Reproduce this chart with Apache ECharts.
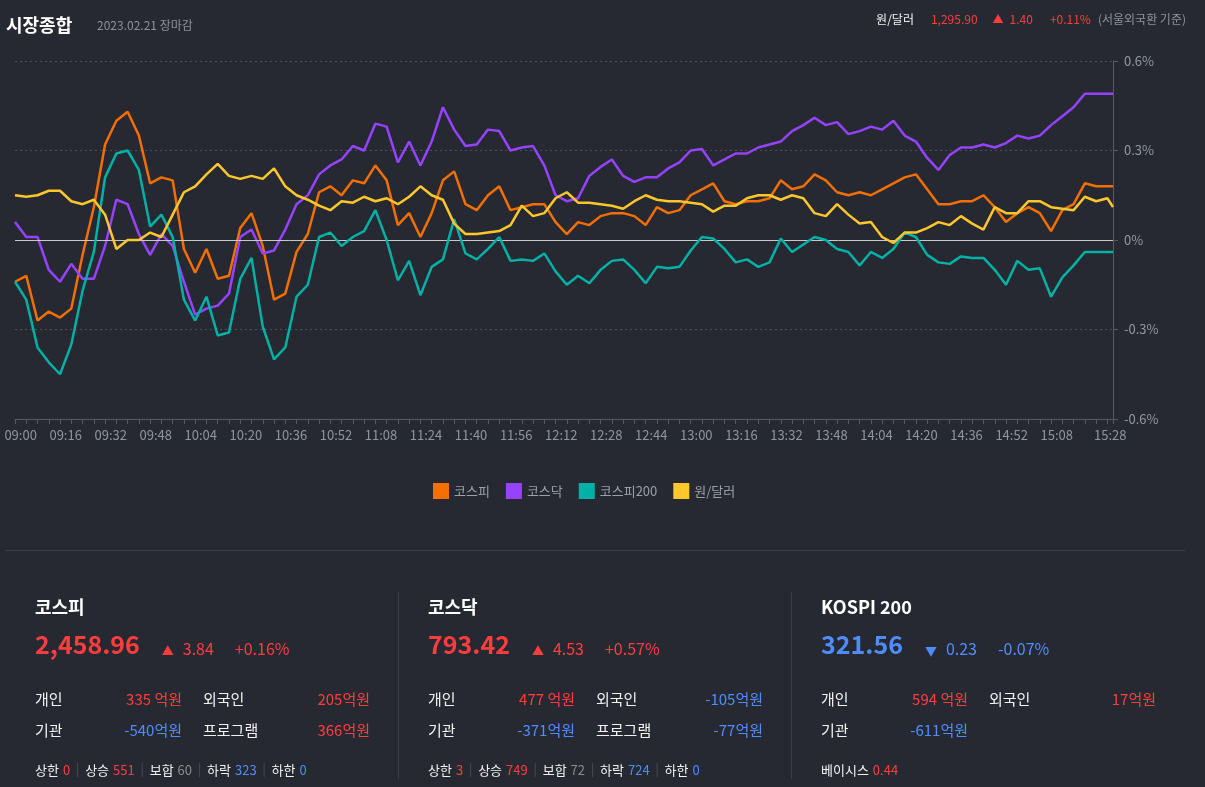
<!DOCTYPE html>
<html>
<head>
<meta charset="utf-8">
<title>시장종합</title>
<script src="https://cdn.jsdelivr.net/npm/echarts@6/dist/echarts.min.js"></script>
<style>
    html, body { margin: 0; padding: 0; background: #262932; }
    #chart { width: 1205px; height: 787px; }
</style>
</head>
<body>
<div id="chart"></div>
<script>
// 시간축 (4분 간격) + 장마감 15:30
const times = ['09:00','09:04','09:08','09:12','09:16','09:20','09:24','09:28','09:32','09:36',
    '09:40','09:44','09:48','09:52','09:56','10:00','10:04','10:08','10:12','10:16',
    '10:20','10:24','10:28','10:32','10:36','10:40','10:44','10:48','10:52','10:56',
    '11:00','11:04','11:08','11:12','11:16','11:20','11:24','11:28','11:32','11:36',
    '11:40','11:44','11:48','11:52','11:56','12:00','12:04','12:08','12:12','12:16',
    '12:20','12:24','12:28','12:32','12:36','12:40','12:44','12:48','12:52','12:56',
    '13:00','13:04','13:08','13:12','13:16','13:20','13:24','13:28','13:32','13:36',
    '13:40','13:44','13:48','13:52','13:56','14:00','14:04','14:08','14:12','14:16',
    '14:20','14:24','14:28','14:32','14:36','14:40','14:44','14:48','14:52','14:56',
    '15:00','15:04','15:08','15:12','15:16','15:20','15:24','15:28','15:30'];

// 등락률 (%)
const kospi = [-0.14,-0.12,-0.27,-0.24,-0.26,-0.23,-0.05,0.11,0.32,0.40,
    0.43,0.35,0.19,0.21,0.20,-0.03,-0.11,-0.03,-0.13,-0.12,
    0.04,0.09,-0.02,-0.20,-0.18,-0.04,0.02,0.16,0.18,0.15,
    0.20,0.19,0.25,0.20,0.05,0.09,0.01,0.09,0.20,0.23,
    0.12,0.10,0.15,0.18,0.10,0.11,0.12,0.12,0.06,0.02,
    0.06,0.05,0.08,0.09,0.09,0.08,0.05,0.11,0.09,0.10,
    0.15,0.17,0.19,0.13,0.12,0.13,0.13,0.14,0.20,0.17,
    0.18,0.22,0.20,0.16,0.15,0.16,0.15,0.17,0.19,0.21,
    0.22,0.17,0.12,0.12,0.13,0.13,0.15,0.11,0.06,0.09,
    0.11,0.09,0.03,0.10,0.12,0.19,0.18,0.18,0.18];
const kosdaq = [0.06,0.01,0.01,-0.10,-0.14,-0.08,-0.13,-0.13,-0.02,0.135,
    0.12,0.02,-0.05,0.02,-0.02,-0.14,-0.25,-0.23,-0.22,-0.18,
    0.01,0.035,-0.045,-0.035,0.035,0.12,0.15,0.22,0.25,0.27,
    0.315,0.30,0.39,0.38,0.26,0.33,0.25,0.33,0.445,0.37,
    0.315,0.32,0.37,0.365,0.30,0.31,0.315,0.25,0.15,0.13,
    0.14,0.215,0.245,0.27,0.215,0.195,0.21,0.21,0.24,0.26,
    0.30,0.305,0.25,0.27,0.29,0.29,0.31,0.32,0.33,0.365,
    0.385,0.41,0.385,0.395,0.355,0.365,0.38,0.37,0.40,0.35,
    0.33,0.275,0.235,0.285,0.31,0.31,0.32,0.31,0.325,0.35,
    0.34,0.35,0.385,0.415,0.445,0.49,0.49,0.49,0.49];
const kospi200 = [-0.14,-0.20,-0.36,-0.41,-0.45,-0.35,-0.17,-0.04,0.21,0.29,
    0.30,0.235,0.045,0.085,0.01,-0.20,-0.27,-0.19,-0.32,-0.31,
    -0.13,-0.06,-0.29,-0.40,-0.36,-0.19,-0.15,0.01,0.025,-0.02,
    0.01,0.03,0.10,0.00,-0.135,-0.07,-0.185,-0.09,-0.065,0.07,
    -0.045,-0.065,-0.03,0.01,-0.07,-0.065,-0.07,-0.045,-0.105,-0.15,
    -0.12,-0.145,-0.10,-0.07,-0.065,-0.10,-0.145,-0.09,-0.095,-0.09,
    -0.035,0.01,0.005,-0.03,-0.075,-0.065,-0.09,-0.075,0.005,-0.04,
    -0.015,0.01,0.00,-0.03,-0.04,-0.085,-0.04,-0.06,-0.03,0.025,
    0.01,-0.05,-0.075,-0.08,-0.055,-0.06,-0.06,-0.10,-0.15,-0.07,
    -0.10,-0.095,-0.19,-0.125,-0.085,-0.04,-0.04,-0.04,-0.04];
const usdkrw = [0.15,0.145,0.15,0.165,0.165,0.13,0.12,0.135,0.085,-0.03,
    0.00,0.00,0.025,0.01,0.085,0.16,0.18,0.22,0.255,0.215,
    0.205,0.215,0.205,0.24,0.18,0.15,0.135,0.115,0.10,0.13,
    0.125,0.145,0.13,0.14,0.12,0.145,0.18,0.15,0.135,0.055,
    0.02,0.02,0.025,0.03,0.05,0.115,0.08,0.09,0.14,0.16,
    0.125,0.125,0.12,0.115,0.105,0.13,0.15,0.135,0.13,0.13,
    0.125,0.12,0.095,0.115,0.115,0.14,0.15,0.15,0.135,0.15,
    0.14,0.09,0.08,0.12,0.085,0.055,0.06,0.01,-0.01,0.025,
    0.025,0.04,0.06,0.05,0.08,0.055,0.035,0.11,0.09,0.09,
    0.13,0.13,0.11,0.105,0.10,0.145,0.13,0.14,0.11];

const tickLabels = ['09:00','09:16','09:32','09:48','10:04','10:20','10:36','10:52','11:08',
    '11:24','11:40','11:56','12:12','12:28','12:44','13:00','13:16','13:32','13:48',
    '14:04','14:20','14:36','14:52','15:08','15:28'];
const yTicks = [-0.6, -0.3, 0, 0.3, 0.6];

const seriesNames = ['코스피', '코스닥', '코스피200', '원/달러'];
const seriesColors = ['#f26f00', '#9642ff', '#00b2a5', '#ffc72a'];

// 하단 지수 요약
const panelNames = ['코스피', '코스닥', 'KOSPI 200'];
const panelPrices = ['2,458.96', '793.42', '321.56'];
const panelChanges = ['3.84', '4.53', '0.23'];
const panelRates = ['+0.16%', '+0.57%', '-0.07%'];
const panelUp = [true, true, false];
const individual = ['335 억원', '477 억원', '594 억원'];
const foreign = ['205억원', '-105억원', '17억원'];
const institution = ['-540억원', '-371억원', '-611억원'];
const program = ['366억원', '-77억원', null];
const breadthLabels = ['상한', '상승', '보합', '하락', '하한'];
const breadth = [[0, 551, 60, 323, 0], [3, 749, 72, 724, 0]];
const basis = '0.44';

const FONT = "'Noto Sans CJK KR', 'Noto Sans', sans-serif";
const RED = '#ff3d3d', BLUE = '#4f8dff', GRAY = '#8c8c8c', WHITE = '#f2f2f2', MUTED = '#8d929b';

function toMin(t) {
    const p = t.split(':');
    return (+p[0] - 9) * 60 + (+p[1]);
}

const labelPos = tickLabels.map(t => Math.min(toMin(t) + 2, 389));
const labelByPos = {};
labelPos.forEach((p, i) => { labelByPos[p] = tickLabels[i]; });

function txt(x, y, str, fill, size, extra) {
    return {
        type: 'text', x: x, y: y, silent: true,
        style: Object.assign({
            text: str, fill: fill, fontSize: size, fontFamily: FONT,
            verticalAlign: 'middle'
        }, extra || {})
    };
}
function hline(x1, y1, x2, y2, color) {
    return { type: 'line', silent: true, shape: { x1: x1, y1: y1, x2: x2, y2: y2 },
        style: { stroke: color, lineWidth: 1 } };
}
function signColor(s) {
    return s.charAt(0) === '-' ? BLUE : RED;
}

const graphics = [];
// 상단 헤더
graphics.push(txt(6, 25, '시장종합', '#ffffff', 18, { fontWeight: 'bold' }));
graphics.push(txt(97, 25, '2023.02.21 장마감', MUTED, 12));
graphics.push(txt(1186, 19, '{w|원/달러}{r|1,295.90}{a|▲}{c|1.40}{p|+0.11%}{n|(서울외국환 기준)}', WHITE, 12, {
    align: 'right',
    rich: {
        w: { fill: WHITE, fontSize: 12, fontFamily: FONT },
        r: { fill: RED, fontSize: 12, fontFamily: FONT, padding: [0, 0, 0, 17] },
        a: { fill: RED, fontSize: 11, fontFamily: FONT, padding: [0, 0, 0, 15] },
        c: { fill: RED, fontSize: 12, fontFamily: FONT, padding: [0, 0, 0, 6] },
        p: { fill: RED, fontSize: 12, fontFamily: FONT, padding: [0, 0, 0, 17] },
        n: { fill: MUTED, fontSize: 12, fontFamily: FONT, padding: [0, 0, 0, 7] }
    }
}));

// 구분선
graphics.push(hline(5, 550.5, 1185, 550.5, '#3a3d46'));
graphics.push(hline(398.5, 592, 398.5, 779, '#3a3d46'));
graphics.push(hline(791.5, 592, 791.5, 779, '#3a3d46'));

panelNames.forEach((name, i) => {
    const x0 = 35 + 393 * i;
    const c = panelUp[i] ? RED : BLUE;
    graphics.push(txt(x0, 607, name, '#ffffff', 18, { fontWeight: 'bold' }));
    graphics.push(txt(x0, 644, '{p|' + panelPrices[i] + '}{a|' + (panelUp[i] ? '▲' : '▼') + '}{c|' + panelChanges[i] + '}{r|' + panelRates[i] + '}', c, 16, {
        rich: {
            p: { fill: c, fontSize: 25, fontWeight: 'bold', fontFamily: FONT, lineHeight: 26, verticalAlign: 'bottom' },
            a: { fill: c, fontSize: 12, fontFamily: FONT, lineHeight: 17, padding: [0, 9, 0, 22], verticalAlign: 'bottom' },
            c: { fill: c, fontSize: 16, fontFamily: FONT, lineHeight: 18, padding: [0, 21, 0, 0], verticalAlign: 'bottom' },
            r: { fill: c, fontSize: 16, fontFamily: FONT, lineHeight: 18, verticalAlign: 'bottom' }
        }
    }));
    // 투자자별
    graphics.push(txt(x0, 699, '개인', WHITE, 15));
    graphics.push(txt(x0 + 147, 699, individual[i], signColor(individual[i]), 15, { align: 'right' }));
    graphics.push(txt(x0 + 168, 699, '외국인', WHITE, 15));
    graphics.push(txt(x0 + 335, 699, foreign[i], signColor(foreign[i]), 15, { align: 'right' }));
    graphics.push(txt(x0, 730, '기관', WHITE, 15));
    graphics.push(txt(x0 + 147, 730, institution[i], signColor(institution[i]), 15, { align: 'right' }));
    if (program[i]) {
        graphics.push(txt(x0 + 168, 730, '프로그램', WHITE, 15));
        graphics.push(txt(x0 + 335, 730, program[i], signColor(program[i]), 15, { align: 'right' }));
    }
    // 상한/상승/보합/하락/하한
    if (breadth[i]) {
        const keys = ['r', 'r', 'g', 'b', 'b'];
        let s = '';
        breadthLabels.forEach((lb, j) => {
            s += '{w|' + lb + '}{' + keys[j] + '|' + breadth[i][j] + '}';
            if (j < breadthLabels.length - 1) s += '{sp| }{bar| }{sp| }';
        });
        graphics.push(txt(x0, 770, s, WHITE, 13, {
            rich: {
                w: { fill: WHITE, fontSize: 13, fontFamily: FONT },
                r: { fill: RED, fontSize: 13, fontFamily: FONT, padding: [0, 0, 0, 4] },
                g: { fill: GRAY, fontSize: 13, fontFamily: FONT, padding: [0, 0, 0, 4] },
                b: { fill: BLUE, fontSize: 13, fontFamily: FONT, padding: [0, 0, 0, 4] },
                sp: { width: 7, fontSize: 13 },
                bar: { width: 1, height: 14, backgroundColor: '#454952', fontSize: 13 }
            }
        }));
    } else {
        graphics.push(txt(x0, 770, '{w|베이시스}{r|' + basis + '}', WHITE, 13, {
            rich: {
                w: { fill: WHITE, fontSize: 13, fontFamily: FONT },
                r: { fill: RED, fontSize: 13, fontFamily: FONT, padding: [0, 0, 0, 4] }
            }
        }));
    }
});

const dataSets = [kospi, kosdaq, kospi200, usdkrw];
const series = dataSets.map((vals, s) => ({
    name: seriesNames[s],
    type: 'line',
    data: times.map((t, i) => [toMin(t), vals[i]]),
    symbol: 'none',
    lineStyle: { width: 2.5, color: seriesColors[s] },
    itemStyle: { color: seriesColors[s] },
    emphasis: { disabled: true },
    z: 3 + s
}));
series[0].markLine = {
    silent: true,
    symbol: ['none', 'none'],
    label: { show: false },
    lineStyle: { color: '#c8c8c8', type: 'solid', width: 1 },
    data: [{ yAxis: 0 }]
};

const chart = echarts.init(document.getElementById('chart'));
chart.setOption({
    backgroundColor: '#262932',
    animation: false,
    textStyle: { fontFamily: FONT },
    grid: { left: 15, right: 92, top: 61, bottom: 368 },
    legend: {
        data: seriesNames,
        left: 428,
        top: 478,
        icon: 'rect',
        itemWidth: 16,
        itemHeight: 16,
        itemGap: 16,
        textStyle: { color: '#9aa0a9', fontSize: 13, fontFamily: FONT },
        selectedMode: false
    },
    xAxis: {
        type: 'value',
        min: 0,
        max: 390,
        axisLine: { show: true, onZero: false, lineStyle: { color: '#555a64' } },
        axisTick: { show: true, length: 5, lineStyle: { color: '#555a64' }, customValues: times.map(toMin) },
        axisLabel: {
            color: '#8f96a0', fontSize: 13, fontFamily: FONT, margin: 10,
            customValues: labelPos,
            formatter: v => labelByPos[v] || ''
        },
        splitLine: { show: false }
    },
    yAxis: {
        type: 'value',
        position: 'right',
        min: yTicks[0],
        max: yTicks[yTicks.length - 1],
        interval: 0.3,
        axisLine: { show: true, onZero: false, lineStyle: { color: '#555a64' } },
        axisTick: { show: true, length: 5, lineStyle: { color: '#555a64' } },
        axisLabel: {
            color: '#9298a2', fontSize: 13, fontFamily: FONT, margin: 11,
            formatter: v => (Math.round(v * 10) / 10) + '%'
        },
        splitLine: { show: true, lineStyle: { color: '#4a4e58', type: [2, 3] } }
    },
    series: series,
    graphic: graphics
});
</script>
</body>
</html>
